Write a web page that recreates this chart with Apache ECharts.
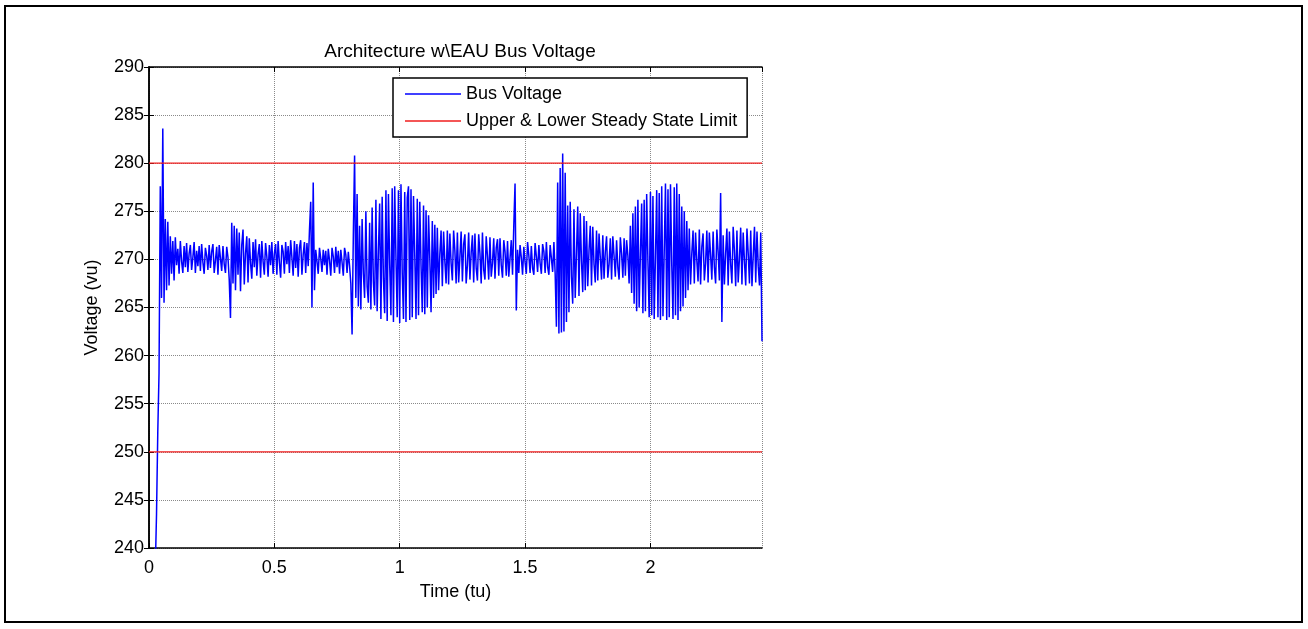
<!DOCTYPE html>
<html>
<head>
<meta charset="utf-8">
<script src="https://cdn.jsdelivr.net/npm/echarts@6/dist/echarts.min.js"></script>
<style>
html, body { margin: 0; padding: 0; background: #fff; }
#chart { position: absolute; left: 0; top: 0; width: 1308px; height: 629px; }
#frame { position: absolute; left: 4px; top: 5px; width: 1295px; height: 614px; border: 2px solid #000; pointer-events: none; }
</style>
</head>
<body>
<div id="chart"></div>
<div id="frame"></div>
<script>
"use strict"

// sample spacing of the bus voltage trace (tu), 10 samples per row below
const timeStep = 0.005
const timeEnd = 2.445

const busVoltage = [
  232, 232, 232, 232, 232, 232, 243.5, 252, 258.2, 277.6,
  266, 283.6, 265.5, 274.2, 266.8, 273.9, 267.3, 272.4, 268.5, 271.9,
  267.8, 272.3, 269.4, 271.1, 268.5, 271.9, 269.8, 268.6, 271.4, 269.2,
  271.7, 268.7, 270.6, 271.5, 268.9, 270.2, 271.8, 268.6, 270.9, 269.3,
  271.4, 268.8, 271.6, 269.7, 268.5, 271.2, 270.4, 268.9, 271.5, 269.1,
  270.8, 271.6, 268.6, 269.9, 271.3, 268.4, 271.5, 270.1, 268.8, 271.4,
  269.5, 268.6, 271.3, 270.2, 267.9, 263.9, 273.8, 267.5, 273.5, 266.8,
  273.2, 268.4, 272.8, 266.7, 271.5, 273.1, 267.4, 270.6, 272.4, 267.6,
  272.2, 269.6, 268, 271.8, 269.2, 272.1, 268.3, 270.5, 271.6, 268.1,
  271.9, 269.8, 268.4, 271.7, 270.3, 268.2, 271.5, 269.4, 271.8, 268.5,
  270.6, 271.6, 268.4, 271.9, 269.7, 268.1, 271.5, 270.8, 268.5, 271.8,
  269.5, 271.4, 268.6, 272, 270.2, 268.3, 271.9, 269.1, 271.6, 268.2,
  271.2, 272, 268.4, 270.5, 271.8, 268.6, 271.7, 269.3, 273, 276,
  265, 278, 266.8, 271, 269.8, 268.5, 271.2, 270.1, 268.7, 271,
  269.4, 270.9, 268.4, 271.1, 269.9, 268.3, 271.2, 270.3, 268.6, 271.3,
  269.2, 270.9, 268.5, 271, 269.7, 268.3, 271.2, 270.5, 268.6, 270.8,
  269.3, 267.5, 262.2, 272.5, 280.8, 266, 276.8, 265.1, 273.5, 264.8,
  274.2, 268.5, 266, 275, 267.2, 265.5, 273.8, 264.8, 275.4, 267.6,
  265.2, 276.2, 264.6, 270.8, 275.8, 263.8, 276.5, 268, 264.4, 277.2,
  263.6, 276.8, 269.5, 264.2, 277.4, 263.5, 277.6, 270.2, 264, 277.2,
  263.4, 277.8, 268.6, 263.8, 277, 263.5, 276.4, 277.6, 263.7, 277.3,
  264, 276.6, 270.5, 263.8, 276.3, 264.2, 276, 269.4, 264.5, 275.6,
  264.3, 275.1, 265, 274.6, 270.1, 264.5, 274, 266, 273.6, 266.4,
  273.3, 266.8, 270.5, 273, 267.2, 272.9, 269.8, 267.5, 273, 267.4,
  272.7, 269.6, 267.8, 273, 270.9, 267.5, 272.8, 267.6, 270.2, 272.9,
  267.7, 271.6, 272.6, 267.5, 269.4, 272.8, 267.9, 270.7, 272.5, 267.6,
  272.7, 269.1, 267.8, 272.6, 270.6, 267.5, 272.8, 268.9, 267.9, 272.4,
  270.3, 267.9, 272.3, 268.2, 269.6, 272.2, 268, 271.2, 272.1, 268.3,
  272.2, 269.4, 268.1, 272, 270.8, 268.3, 271.9, 268.2, 270.1, 272,
  268.4, 273.5, 277.9, 264.7, 271, 268.6, 271.5, 270.2, 268.4, 271.3,
  269.7, 268.5, 271.8, 270.4, 268.6, 271.4, 269.1, 268.4, 271.7, 270.3,
  268.7, 271.5, 269.6, 268.5, 271.6, 270.8, 268.6, 271.8, 269.2, 268.4,
  271.5, 270.1, 268.7, 271.8, 268.5, 263, 278, 262.3, 279.5, 262.4,
  281, 262.5, 279, 263.5, 275.6, 264.5, 276, 268.2, 265.4, 275.2,
  266, 270.5, 275.5, 266.2, 274.8, 269.8, 266.6, 274.5, 266.8, 274,
  267.2, 270.9, 273.5, 267.3, 273.4, 269.5, 267.6, 273, 267.8, 272.7,
  270.2, 267.9, 272.5, 268, 270.8, 272.4, 268.1, 269.5, 272.2, 267.9,
  272.4, 270.3, 268.2, 272, 269.2, 267.9, 272.3, 270.6, 268.1, 272.2,
  268.3, 272, 270.4, 267.5, 273.5, 266.5, 274.8, 265.4, 275.5, 264.6,
  276.2, 265, 270.5, 275.8, 264.4, 276.2, 264.6, 276.8, 269.8, 264,
  277, 264.2, 276.6, 263.8, 270.2, 277.2, 264, 276.9, 263.7, 277.6,
  264.1, 270.8, 277.9, 263.7, 277.3, 264, 277.8, 269.5, 263.8, 277.5,
  264.2, 277.9, 263.7, 276.8, 264.6, 275.5, 265.1, 275, 266, 274,
  266.8, 273.2, 267.4, 270.6, 273, 267.5, 272.8, 269.9, 267.7, 273.1,
  267.4, 271.3, 272.7, 267.8, 269.6, 273, 267.6, 272.8, 270.4, 267.9,
  272.9, 269.2, 267.5, 273.1, 270.8, 267.8, 276.9, 263.5, 272.5, 267.4,
  270.6, 273.2, 267.3, 272.9, 269.5, 267.5, 273.4, 270.9, 267.2, 273,
  267.6, 270.1, 273.3, 267.4, 272.8, 269.8, 267.3, 273.2, 270.6, 267.5,
  273, 267.2, 270.4, 273.4, 267.6, 272.9, 269.3, 267.3, 272.8, 261.5,
]

const limitValues = [250, 280]
const yRange = [240, 290]
const xTickStep = 0.5
const yTickStep = 5

const font = "'Liberation Sans', Arial, sans-serif"
const limitName = "Upper & Lower Steady State Limit"

const busData = busVoltage.map((v, i) => [+(i * timeStep).toFixed(3), v])

const limitSeries = limitValues.map((v) => ({
  name: limitName,
  type: "line",
  data: [[0, v], [timeEnd, v]],
  symbol: "none",
  lineStyle: { color: "#f01e1e", width: 1.3 },
  itemStyle: { color: "#f01e1e" },
}))

const boxAxis = {
  axisLine: { show: true, lineStyle: { color: "#000", width: 1.5 } },
  axisTick: { show: true, inside: true, length: 5, lineStyle: { color: "#000" } },
  axisLabel: { show: false },
  splitLine: { show: false },
}

const gridLine = { show: true, lineStyle: { color: "#8a8a8a", type: [1, 1], width: 1 } }

const option = {
  animation: false,
  backgroundColor: "#fff",
  title: {
    text: "Architecture w\\EAU Bus Voltage",
    left: 455,
    top: 37,
    textAlign: "center",
    textStyle: { fontFamily: font, fontSize: 19, fontWeight: "normal", color: "#000" },
  },
  legend: {
    orient: "vertical",
    left: 393,
    top: 78,
    data: [
      { name: "Bus Voltage", icon: "rect" },
      { name: limitName, icon: "rect" },
    ],
    backgroundColor: "#fff",
    borderColor: "#000",
    borderWidth: 1.5,
    borderRadius: 0,
    padding: [7, 10, 7, 12],
    itemWidth: 56,
    itemHeight: 1.5,
    itemGap: 9,
    selectedMode: false,
    textStyle: { fontFamily: font, fontSize: 18, color: "#000", lineHeight: 18 },
  },
  grid: { left: 149, top: 67, right: 546, bottom: 81 },
  xAxis: [
    {
      type: "value",
      min: 0,
      max: timeEnd,
      interval: xTickStep,
      name: "Time (tu)",
      nameLocation: "middle",
      nameGap: 35,
      nameTextStyle: { fontFamily: font, fontSize: 18, color: "#000" },
      axisLine: { show: true, onZero: false, lineStyle: { color: "#000", width: 1.5 } },
      axisTick: { show: true, inside: true, length: 5, lineStyle: { color: "#000" } },
      axisLabel: { fontFamily: font, fontSize: 18, color: "#000", margin: 11, showMaxLabel: false },
      splitLine: gridLine,
    },
    Object.assign({ type: "value", position: "top", min: 0, max: timeEnd, interval: xTickStep }, boxAxis),
  ],
  yAxis: [
    {
      type: "value",
      min: yRange[0],
      max: yRange[1],
      interval: yTickStep,
      name: "Voltage (vu)",
      nameLocation: "middle",
      nameGap: 48,
      nameTextStyle: { fontFamily: font, fontSize: 18, color: "#000" },
      axisLine: { show: true, onZero: false, lineStyle: { color: "#000", width: 1.5 } },
      axisTick: { show: true, inside: true, length: 5, lineStyle: { color: "#000" } },
      axisLabel: { fontFamily: font, fontSize: 18, color: "#000", margin: 5 },
      splitLine: gridLine,
    },
    Object.assign({ type: "value", position: "right", min: yRange[0], max: yRange[1], interval: yTickStep }, boxAxis),
  ],
  series: [
    {
      name: "Bus Voltage",
      type: "line",
      data: busData,
      symbol: "none",
      clip: true,
      lineStyle: { color: "#0000ff", width: 1.5 },
      itemStyle: { color: "#0000ff" },
    },
    ...limitSeries,
  ],
}

const myChart = echarts.init(document.getElementById("chart"), null, { renderer: "canvas" })
myChart.setOption(option)
</script>
</body>
</html>
